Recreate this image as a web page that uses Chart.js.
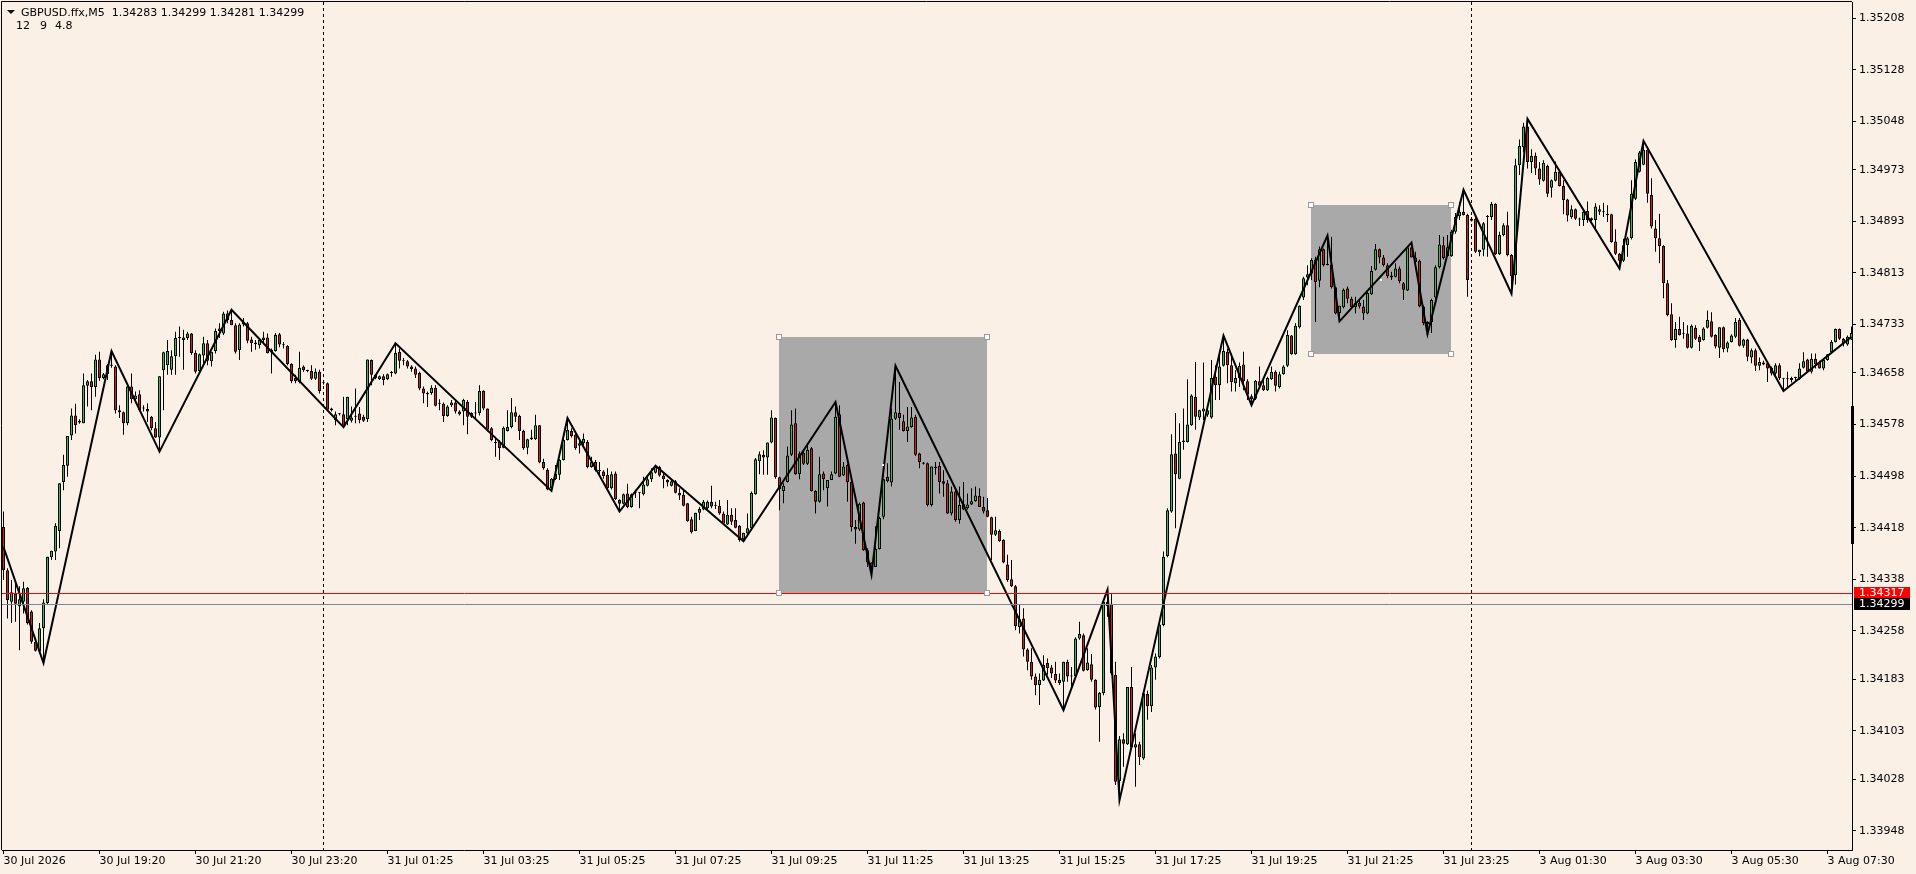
<!DOCTYPE html>
<html>
<head>
<meta charset="utf-8">
<title>GBPUSD.ffx,M5</title>
<script src="https://cdn.jsdelivr.net/npm/chart.js@4.4.1/dist/chart.umd.min.js"></script>
<style>
  html, body { margin: 0; padding: 0; background: #FAF0E6; overflow: hidden; }
  #wrap { width: 1916px; height: 874px; position: relative; }
</style>
</head>
<body>
<div id="wrap"><canvas id="chart"></canvas></div>
<script>
// candles are kept in points above 1.34000 (price = 1.34 + pts / 100000), one per M5 bar
const BASE = 1.34;

const opens = [
  419,352,303,316,296,303,325,288,241,226,262,301,372,381,413,489,514,561,592,581,
  580,638,645,636,679,650,656,669,668,600,597,580,637,617,625,603,602,590,572,558,
  662,670,663,684,712,713,712,719,689,661,685,704,676,692,723,719,750,740,732,693,
  733,735,710,705,701,709,713,690,692,718,701,700,672,650,644,668,662,661,649,660,
  643,642,600,585,594,594,586,584,590,595,590,586,678,655,648,653,648,658,657,691,
  676,676,668,665,658,634,627,627,635,610,610,591,608,612,598,598,613,590,595,596,
  630,603,572,551,551,542,568,574,597,591,568,542,555,555,577,520,508,479,493,500,
  523,554,568,562,545,549,551,512,520,506,505,500,479,502,461,455,471,450,472,472,
  470,483,493,503,512,499,492,483,490,472,469,456,431,413,441,446,448,458,452,452,
  440,423,438,430,421,400,409,417,470,521,531,527,550,588,496,475,489,531,580,501,
  534,517,541,475,458,502,479,492,502,594,499,515,489,419,415,457,383,364,357,385,
  435,497,488,587,596,583,568,574,590,533,519,518,453,510,514,490,487,440,474,430,
  455,448,454,459,467,450,445,434,407,413,399,361,338,327,264,277,229,210,187,174,
  181,208,201,191,182,179,210,187,188,246,251,197,206,182,140,161,303,300,190,25,
  90,82,171,77,82,60,160,141,201,217,267,374,443,533,494,551,551,577,621,589,
  598,593,589,652,639,669,691,670,642,650,671,645,622,618,645,639,631,648,660,636,
  656,669,716,687,729,775,806,812,834,801,850,827,826,791,751,760,789,773,760,767,
  761,750,780,818,850,837,825,809,807,820,797,786,853,837,832,761,734,737,775,822,
  856,839,839,877,901,908,903,897,897,845,849,900,900,920,842,872,887,841,810,980,
  1008,1040,985,995,975,956,979,945,956,970,948,927,900,912,896,895,909,895,895,912,
  907,905,904,862,843,832,856,867,928,970,981,1004,934,882,867,855,797,749,709,726,
  718,719,697,728,714,709,728,738,717,697,729,696,706,714,740,700,710,682,693,669,
  674,673,666,657,670,649,648,647,650,648,666,679,660,680,675,665,678,690,706,726,
  711,702,710
];
const highs = [
  443,355,337,332,327,334,326,290,243,270,307,373,382,425,487,531,560,603,610,586,
  657,647,657,686,691,658,672,692,670,608,598,640,657,629,631,608,611,591,582,653,
  691,709,693,722,730,725,722,720,693,688,714,709,691,727,735,753,755,756,735,735,
  743,737,714,709,712,722,719,696,720,720,706,701,673,655,691,670,663,670,665,663,
  645,643,604,598,596,621,621,606,634,605,593,679,679,656,654,656,657,661,704,696,
  681,678,670,668,660,637,629,639,639,617,612,608,616,616,600,618,616,597,613,639,
  631,603,574,559,554,575,600,619,606,593,570,556,570,593,577,525,510,495,515,524,
  564,588,572,564,554,564,554,528,523,520,507,510,505,505,462,471,486,471,477,473,
  497,497,510,514,514,502,493,492,492,479,476,456,435,441,450,461,460,483,458,461,
  443,461,448,448,422,410,440,474,526,536,538,550,600,589,497,487,544,600,603,536,
  536,546,543,476,528,505,492,505,613,608,520,517,490,430,457,458,386,364,420,435,
  494,518,603,669,644,593,605,605,593,534,520,519,513,520,520,507,492,482,476,482,
  489,471,479,482,479,466,464,435,435,415,400,376,368,329,298,293,231,231,192,192,
  220,215,205,210,192,210,213,202,248,272,254,231,222,183,163,306,322,316,210,95,
  99,171,202,99,86,161,165,205,223,272,381,448,563,596,580,603,648,625,675,601,
  674,606,678,670,684,716,696,688,662,674,691,648,625,647,668,650,652,668,662,660,
  670,724,717,735,763,807,825,836,838,854,851,871,869,792,762,789,792,776,776,771,
  771,785,824,858,851,841,828,815,828,823,799,855,860,846,834,763,738,773,825,872,
  869,872,880,906,923,942,905,900,900,849,892,903,923,921,877,890,908,842,990,1020,
  1046,1052,1005,1000,985,988,981,958,986,972,957,928,918,913,899,910,924,899,921,918,
  922,918,905,881,844,866,869,957,989,1002,1018,1006,960,895,905,856,802,766,737,745,
  737,732,733,732,717,729,755,752,718,729,730,707,718,743,743,711,711,696,696,682,
  677,675,668,673,673,650,660,652,652,673,690,680,688,688,677,678,687,709,727,727,
  712,716,730
];
const lows = [
  337,277,270,272,228,285,268,238,226,223,208,299,368,368,386,476,497,554,564,579,
  580,606,600,621,646,648,647,666,595,588,562,577,611,611,598,598,582,569,557,536,
  600,655,655,655,683,663,709,686,657,660,673,670,668,688,712,717,735,732,688,678,
  730,704,691,694,696,704,688,657,691,698,696,670,642,642,642,660,659,647,647,626,
  640,600,598,577,592,574,577,581,580,580,582,582,639,648,647,639,647,652,656,665,
  670,665,660,650,631,611,605,624,606,600,582,590,605,595,592,577,563,588,585,592,
  600,567,552,528,523,541,567,572,582,554,539,532,554,554,518,508,476,475,492,492,
  522,553,558,539,533,546,510,511,505,500,494,477,477,461,443,454,448,449,464,448,
  468,482,489,502,497,479,482,482,471,461,451,427,409,413,430,445,447,448,447,438,
  424,422,422,417,396,397,408,415,469,501,500,500,549,494,445,456,488,529,500,493,
  515,515,474,440,457,476,451,492,501,496,498,458,412,393,413,382,357,345,357,384,
  431,488,482,585,570,567,551,573,529,510,516,451,451,500,471,466,439,437,427,424,
  445,446,453,458,450,440,434,368,405,396,363,334,326,259,254,218,197,182,158,143,
  180,190,185,177,174,135,179,171,187,244,195,196,179,136,86,158,280,189,19,-5,
  47,81,76,16,50,58,120,132,182,215,265,372,441,417,493,539,550,576,570,585,
  585,590,587,616,616,668,642,629,629,636,631,616,608,616,636,630,630,647,629,634,
  655,667,686,686,727,771,794,802,737,791,823,825,789,749,738,758,766,758,750,758,
  740,749,779,817,828,823,805,802,806,797,771,785,837,825,760,732,718,720,773,820,
  834,838,838,874,895,902,776,893,844,839,839,838,895,841,841,870,839,781,795,965,
  1000,975,968,965,950,955,931,930,955,947,904,893,897,895,886,886,891,893,878,903,
  900,892,860,841,820,830,838,865,926,969,980,922,882,846,828,774,746,708,697,716,
  711,696,696,709,692,708,727,713,696,681,690,690,705,712,699,697,676,673,661,662,
  670,644,654,652,647,630,634,643,644,647,665,658,657,665,665,662,677,688,705,709,
  699,700,709
];
const closes = [
  352,306,318,300,307,324,270,241,227,262,302,373,382,421,487,515,560,592,577,584,
  639,645,636,679,650,656,670,671,600,597,580,637,617,623,600,604,598,572,558,653,
  690,692,684,712,713,709,719,689,660,687,704,677,691,723,727,750,740,732,691,733,
  737,708,704,703,709,713,689,694,717,702,702,672,645,645,666,662,661,649,660,630,
  642,601,603,594,594,575,621,589,591,585,584,679,655,650,653,647,656,659,689,677,
  677,668,664,655,634,626,625,635,607,611,591,606,612,598,594,616,590,596,596,630,
  603,570,554,549,541,573,574,597,590,568,541,555,558,577,519,510,477,494,502,523,
  554,570,560,541,549,556,512,520,507,507,498,479,501,462,455,470,450,470,473,473,
  485,493,504,512,499,493,488,490,472,468,452,428,411,441,447,458,458,451,453,440,
  424,438,427,418,399,410,417,472,524,532,527,550,589,496,478,483,530,578,501,533,
  517,539,475,458,501,493,492,501,590,497,513,489,419,415,455,383,364,357,385,433,
  493,490,587,597,588,568,575,589,531,520,517,453,513,513,489,486,440,474,430,453,
  446,454,459,468,450,443,435,407,414,397,364,337,327,265,276,229,210,187,174,182,
  205,200,192,181,177,210,187,188,246,253,196,209,182,139,162,303,296,192,24,90,
  83,171,77,82,62,161,141,201,218,268,373,445,532,501,551,553,578,623,590,600,
  603,600,650,639,668,692,670,644,650,669,645,624,617,646,638,631,650,660,638,656,
  668,717,687,731,762,805,811,833,799,850,825,825,791,750,762,787,773,760,767,761,
  750,782,816,850,837,825,808,806,820,800,787,853,837,830,761,735,737,771,822,857,
  836,853,877,900,908,903,802,894,846,849,890,901,920,842,872,887,841,808,980,1010,
  1040,985,995,975,958,984,936,957,970,948,926,902,912,897,897,908,895,898,916,908,
  908,903,861,843,832,856,867,936,985,1000,1004,936,885,867,855,797,748,709,726,717,
  718,697,731,711,706,727,740,714,699,729,695,705,716,737,700,710,683,693,669,675,
  671,665,657,670,650,650,649,650,651,665,676,660,680,671,665,678,687,706,726,711,
  704,714,720
];

// ZigZag(12,9,4.8) turning points: bar index and points
const zigzagBars = [0, 10, 27, 39, 57, 85, 98, 137, 141, 154, 163, 185, 208, 217, 223, 265,
  276, 279, 305, 312, 331, 334, 352, 356, 365, 377, 381, 404, 410, 445, 462];
const zigzagPts = [388, 208, 692, 536, 756, 574, 704, 475, 588, 443, 514, 397, 613, 345, 669, 135,
  322, -5, 716, 608, 871, 738, 860, 718, 942, 781, 1052, 820, 1018, 630, 714];

// time axis: one label every 24 bars
const xTickLabels = ['30 Jul 2026', '30 Jul 19:20', '30 Jul 21:20', '30 Jul 23:20', '31 Jul 01:25',
  '31 Jul 03:25', '31 Jul 05:25', '31 Jul 07:25', '31 Jul 09:25', '31 Jul 11:25', '31 Jul 13:25',
  '31 Jul 15:25', '31 Jul 17:25', '31 Jul 19:25', '31 Jul 21:25', '31 Jul 23:25', '3 Aug 01:30',
  '3 Aug 03:30', '3 Aug 05:30', '3 Aug 07:30'];
const xTickStep = 24;
const yTickLabels = ['1.35208', '1.35128', '1.35048', '1.34973', '1.34893', '1.34813', '1.34733',
  '1.34658', '1.34578', '1.34498', '1.34418', '1.34338', '1.34258', '1.34183', '1.34103',
  '1.34028', '1.33948'];

// rectangles (from bar, to bar) and (top price, bottom price)
const boxBars = [[194, 246], [327, 362]];
const boxPrices = [[1.34714, 1.34317], [1.34918, 1.34687]];
const separatorBars = [80, 367];
const askPrice = 1.34317;
const bidPrice = 1.34299;
const axisMarker = [1.34607, 1.34393];

const toPrice = p => BASE + p / 100000;

const wickData = opens.map((o, i) => ({
  x: i,
  y: [toPrice(Math.min(lows[i], o, closes[i])), toPrice(Math.max(highs[i], o, closes[i]))]
}));
const bodyData = opens.map((o, i) => ({x: i, y: [toPrice(o), toPrice(closes[i])]}));
const bodyColors = opens.map((o, i) => closes[i] > o ? '#22D022' : (closes[i] < o ? '#E01818' : '#000000'));
const zigzagData = zigzagBars.map((b, k) => ({x: b, y: toPrice(zigzagPts[k])}));

const FONT = 'DejaVu Sans';
Chart.defaults.font.family = FONT;
Chart.defaults.font.size = 11;
Chart.defaults.color = '#000';

const mt4Plugin = {
  id: 'mt4',
  beforeDraw(chart) {
    const ctx = chart.ctx;
    ctx.save();
    ctx.fillStyle = '#FAF0E6';
    ctx.fillRect(0, 0, chart.width, chart.height);
    ctx.restore();
  },
  beforeDatasetsDraw(chart) {
    const {ctx, chartArea: a, scales: {x, y}} = chart;
    ctx.save();
    ctx.beginPath();
    ctx.rect(a.left, a.top, a.right - a.left, a.bottom - a.top);
    ctx.clip();
    ctx.fillStyle = '#A9A9A9';
    boxBars.forEach((b, k) => {
      const x0 = Math.floor(x.getPixelForValue(b[0]));
      const x1 = Math.floor(x.getPixelForValue(b[1]));
      const y0 = Math.round(y.getPixelForValue(boxPrices[k][0]));
      const y1 = Math.round(y.getPixelForValue(boxPrices[k][1]));
      ctx.fillRect(x0, y0, x1 - x0, y1 - y0);
    });
    ctx.strokeStyle = '#000';
    ctx.lineWidth = 1;
    ctx.setLineDash([3, 3]);
    separatorBars.forEach(b => {
      const px = Math.floor(x.getPixelForValue(b)) + 0.5;
      ctx.beginPath();
      ctx.moveTo(px, a.top);
      ctx.lineTo(px, a.bottom);
      ctx.stroke();
    });
    ctx.restore();
  },
  afterDatasetsDraw(chart) {
    const {ctx, chartArea: a, scales: {x, y}} = chart;
    ctx.save();
    // ask / bid lines
    [[askPrice, '#FF0000'], [bidPrice, '#778899']].forEach(([p, c]) => {
      const py = Math.round(y.getPixelForValue(p)) + 0.5;
      ctx.strokeStyle = c;
      ctx.lineWidth = 1;
      ctx.beginPath();
      ctx.moveTo(a.left, py);
      ctx.lineTo(a.right, py);
      ctx.stroke();
    });
    // selection handles of the rectangles
    boxBars.forEach((b, k) => {
      const x0 = Math.floor(x.getPixelForValue(b[0]));
      const x1 = Math.floor(x.getPixelForValue(b[1]));
      const y0 = Math.round(y.getPixelForValue(boxPrices[k][0]));
      const y1 = Math.round(y.getPixelForValue(boxPrices[k][1]));
      [[x0, y0], [x1, y0], [x0, y1], [x1, y1]].forEach(([hx, hy]) => {
        ctx.fillStyle = '#FFFFFF';
        ctx.fillRect(hx - 2, hy - 2, 4, 4);
        ctx.strokeStyle = '#9A9A9A';
        ctx.strokeRect(hx - 2.5, hy - 2.5, 5, 5);
      });
      ctx.fillStyle = '#FFFFFF';
      ctx.fillRect(Math.round((x0 + x1) / 2) - 1, Math.round((y0 + y1) / 2) - 1, 2, 2);
    });
    ctx.restore();
  },
  afterDraw(chart) {
    const {ctx, chartArea: a, scales: {y}} = chart;
    ctx.save();
    // frame (top and left; right/bottom come from the axes)
    ctx.strokeStyle = '#000';
    ctx.lineWidth = 1;
    ctx.beginPath();
    ctx.moveTo(a.left - 0.5, a.bottom);
    ctx.lineTo(a.left - 0.5, a.top - 0.5);
    ctx.lineTo(a.right, a.top - 0.5);
    ctx.stroke();
    // thick marker on the price axis
    ctx.fillStyle = '#000';
    const m0 = Math.round(y.getPixelForValue(axisMarker[0]));
    const m1 = Math.round(y.getPixelForValue(axisMarker[1]));
    ctx.fillRect(a.right - 1, m0, 3, m1 - m0);
    // ask / bid price labels
    ctx.font = '11px "' + FONT + '"';
    ctx.textBaseline = 'middle';
    ctx.textAlign = 'left';
    [[askPrice, '#FF0000'], [bidPrice, '#000000']].forEach(([p, c]) => {
      const py = Math.round(y.getPixelForValue(p));
      ctx.fillStyle = c;
      ctx.fillRect(a.right + 2, py - 6, 56, 12);
      ctx.fillStyle = '#FFFFFF';
      ctx.fillText(p.toFixed(5), a.right + 7, py);
    });
    // header
    ctx.fillStyle = '#000';
    ctx.beginPath();
    ctx.moveTo(7, 10);
    ctx.lineTo(15, 10);
    ctx.lineTo(11, 14);
    ctx.closePath();
    ctx.fill();
    ctx.textBaseline = 'alphabetic';
    ctx.fillText('GBPUSD.ffx,M5  1.34283 1.34299 1.34281 1.34299', 21, 16);
    ctx.fillText('12', 16, 29);
    ctx.fillText('9', 40, 29);
    ctx.fillText('4.8', 55, 29);
    ctx.restore();
  }
};

new Chart(document.getElementById('chart'), {
  type: 'bar',
  data: {
    datasets: [
      {
        type: 'line',
        label: 'ZigZag',
        data: zigzagData,
        borderColor: '#000',
        borderWidth: 2,
        pointRadius: 0,
        tension: 0,
        fill: false,
        order: 1
      },
      {
        label: 'Bodies',
        data: bodyData,
        backgroundColor: bodyColors,
        borderColor: '#000',
        borderWidth: 1,
        borderSkipped: false,
        barThickness: 3,
        minBarLength: 1,
        inflateAmount: 0,
        grouped: false,
        order: 2
      },
      {
        label: 'Wicks',
        data: wickData,
        backgroundColor: '#000',
        borderWidth: 0,
        barThickness: 1,
        inflateAmount: 0,
        grouped: false,
        order: 3
      }
    ]
  },
  options: {
    responsive: true,
    maintainAspectRatio: false,
    animation: false,
    devicePixelRatio: 1,
    events: [],
    layout: {padding: {top: 2, left: 2, right: 0, bottom: 0}},
    plugins: {legend: {display: false}, tooltip: {enabled: false}},
    scales: {
      x: {
        type: 'linear',
        min: -0.375,
        max: 462.125,
        bounds: 'data',
        offset: false,
        grid: {offset: false, drawOnChartArea: false, drawTicks: true, tickLength: 4, color: '#000'},
        border: {display: true, color: '#000'},
        ticks: {
          autoSkip: false,
          maxRotation: 0,
          align: 'start',
          padding: 1,
          color: '#000',
          callback: v => xTickLabels[Math.round(v / xTickStep)]
        },
        afterBuildTicks: s => { s.ticks = xTickLabels.map((t, k) => ({value: k * xTickStep})); },
        afterFit: s => { s.height = 24; s.paddingLeft = 0; s.paddingRight = 0; }
      },
      y: {
        position: 'right',
        min: 1.3391807,
        max: 1.3523328,
        bounds: 'data',
        grid: {drawOnChartArea: false, drawTicks: true, tickLength: 4, color: '#000'},
        border: {display: true, color: '#000'},
        ticks: {
          autoSkip: false,
          padding: 3,
          color: '#000',
          callback: v => v.toFixed(5)
        },
        afterBuildTicks: s => { s.ticks = yTickLabels.map(t => ({value: parseFloat(t)})); },
        afterFit: s => { s.width = 64; s.paddingTop = 0; s.paddingBottom = 0; }
      }
    }
  },
  plugins: [mt4Plugin]
});
</script>
</body>
</html>
